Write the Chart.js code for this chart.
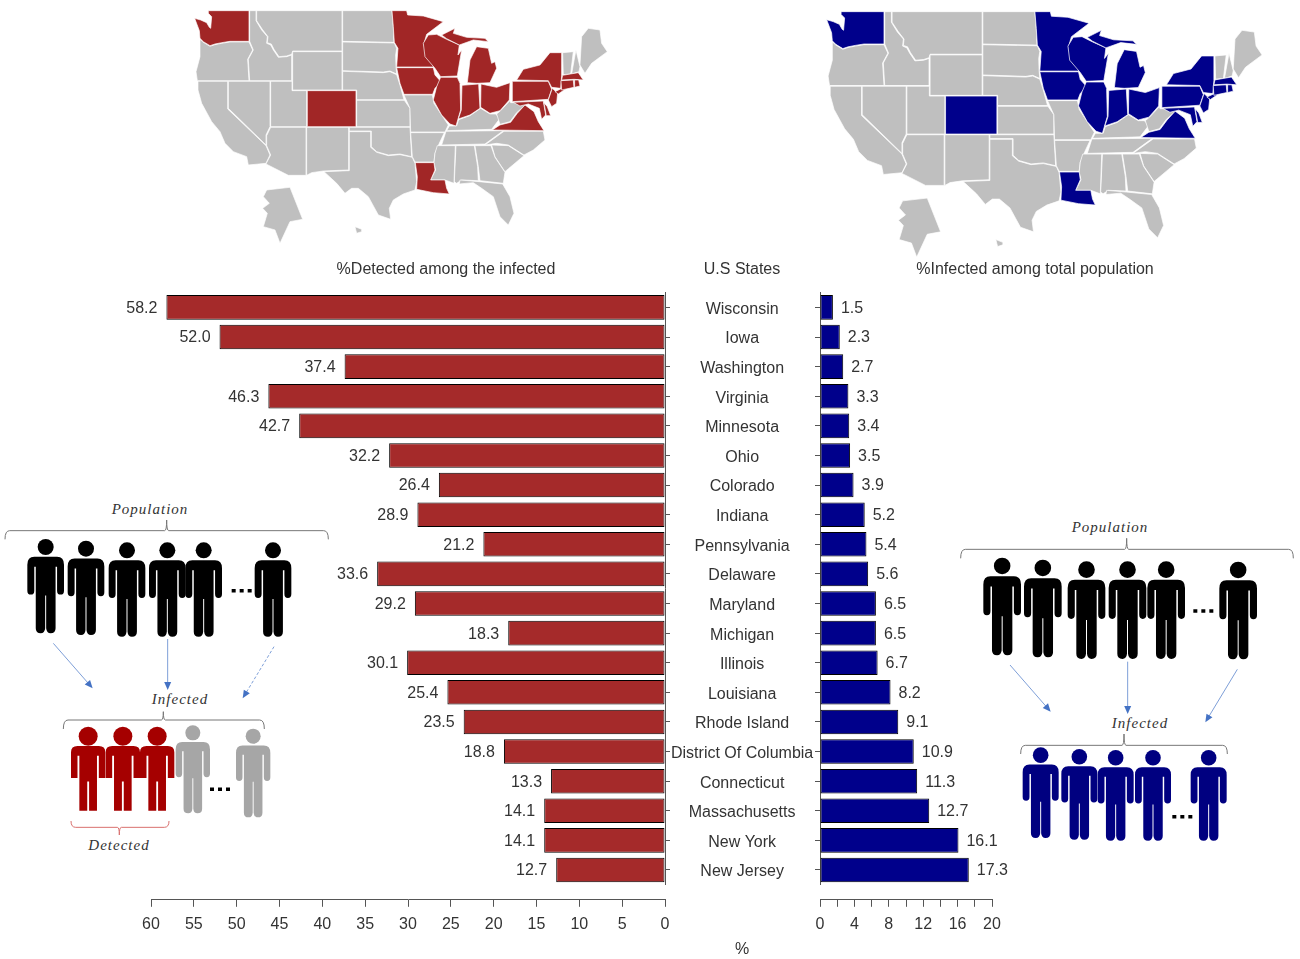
<!DOCTYPE html>
<html>
<head>
<meta charset="utf-8">
<title>Detected and infected by U.S state</title>
<script src="https://cdn.jsdelivr.net/npm/chart.js@4"></script>
<style>
    html, body { margin: 0; padding: 0; background: #fff; }
    #page { position: relative; width: 1300px; height: 959px; overflow: hidden; font-family: "Liberation Sans", Arial, sans-serif; color: #333; }
    #art { position: absolute; left: 0; top: 0; }
    canvas { position: absolute; top: 0; }
    #chartLeft { left: 0; }
    #chartRight { left: 760px; }
    .head { position: absolute; font-size: 16px; line-height: 18px; white-space: nowrap; transform: translateX(-50%); }
</style>
</head>
<body>
<div id="page">
    <svg id="art" width="1300" height="959" xmlns="http://www.w3.org/2000/svg"></svg>
    <canvas id="chartLeft" width="820" height="959"></canvas>
    <canvas id="chartRight" width="540" height="959"></canvas>
    <div class="head" style="left:446px;top:260px">%Detected among the infected</div>
    <div class="head" style="left:742px;top:260px">U.S States</div>
    <div class="head" style="left:1035px;top:260px">%Infected among total population</div>
    <div class="head" style="left:742px;top:940px">%</div>
</div>

<script>
// ------------------------------------ DATA -----------------------------------------
const states = ['Wisconsin', 'Iowa', 'Washington', 'Virginia', 'Minnesota', 'Ohio', 'Colorado', 'Indiana', 'Pennsylvania', 'Delaware',
    'Maryland', 'Michigan', 'Illinois', 'Louisiana', 'Rhode Island', 'District Of Columbia', 'Connecticut', 'Massachusetts', 'New York', 'New Jersey'];
const detectedPct = [58.2, 52.0, 37.4, 46.3, 42.7, 32.2, 26.4, 28.9, 21.2, 33.6, 29.2, 18.3, 30.1, 25.4, 23.5, 18.8, 13.3, 14.1, 14.1, 12.7];
const infectedPct = [1.5, 2.3, 2.7, 3.3, 3.4, 3.5, 3.9, 5.2, 5.4, 5.6, 6.5, 6.5, 6.7, 8.2, 9.1, 10.9, 11.3, 12.7, 16.1, 17.3];

// ------------------------------------ MAP SHAPES -----------------------------------------
// traced by hand, in 3x crop coordinates of the left map
const grayStates = [
    '60,118 70,127 90,139 105,134 125,130 150,126 207,126 218,150 203,178 207,242 52,242 48,215 60,170',
    '209,32 228,32 228,62 245,90 262,110 260,130 272,135 280,150 295,172 320,170 335,165 335,242 209,242 205,178 220,150 209,124',
    '230,32 486,32 486,153 338,153 335,163 320,168 297,170 282,148 274,132 262,128 264,110 247,88 230,62',
    '338,155 486,155 486,270 338,270',
    '488,32 636,32 640,80 642,127 488,124',
    '488,126 643,129 650,145 647,165 648,200 650,222 630,213 610,216 488,212',
    '488,214 610,218 630,215 650,224 660,255 672,299 530,299 530,270 488,270',
    '530,301 673,301 690,325 690,380 530,380',
    '272,244 336,244 336,272 380,272 380,380 272,380',
    '145,244 270,244 270,380 258,405 258,435 145,325',
    '54,244 143,244 143,327 258,437 270,465 258,490 205,495 200,470 160,455 135,430 120,395 95,365 65,310 54,270',
    '272,382 378,382 378,526 325,526 258,492 272,465 260,437 260,407',
    '380,382 506,382 506,510 430,513 395,518 380,526',
    '508,382 690,382 695,470 660,462 625,465 590,455 574,440 574,393 508,393',
    '508,395 572,395 572,442 590,457 625,467 660,464 697,472 705,490 710,545 705,570 670,582 640,600 628,625 632,658 595,645 565,590 535,565 515,565 495,580 470,550 432,515 508,512',
    '672,285 757,285 762,310 785,345 805,375 795,396 692,396 690,325',
    '692,398 793,398 778,430 765,460 762,486 705,486 697,470',
    '808,378 830,378 836,359 870,347 902,325 930,342 947,342 960,355 935,388 800,392',
    '798,394 970,392 915,432 785,435',
    '950,342 962,332 990,302 992,308 1025,308 1040,312 1010,338 990,365 960,373',
    '972,394 1090,394 1095,420 1060,450 1032,465 985,435 950,430 915,435',
    '935,435 985,437 1032,467 975,515 945,470',
    '885,437 933,437 945,472 975,517 970,550 900,542 895,500',
    '828,437 883,437 893,500 895,542 845,540 830,550 823,545',
    '772,437 826,437 822,550 795,540 752,540 767,510 762,488 765,460',
    '840,540 897,545 968,552 990,590 1002,640 985,675 960,650 940,590 905,565 880,548 838,552',
    '1148,158 1180,155 1172,222 1150,224',
    '1188,150 1200,200 1197,215 1175,222',
    '1205,110 1225,85 1260,90 1265,130 1282,155 1235,190 1215,220 1200,195',
    '260,570 330,562 368,658 330,665 300,730 285,690 250,680 262,640 248,625 268,610 250,590',
    '525,680 545,688 545,695 530,700'
];
const colorStates = [
    '85,32 207,32 207,124 150,124 125,128 105,132 90,137 70,125 60,115 58,92 44,55 62,60 80,68 88,82 92,85 95,50 85,40',
    '382,272 528,272 528,380 382,380',
    '706,488 762,488 765,510 752,540 795,540 800,565 808,582 760,578 710,568 712,530',
    '650,203 760,203 765,225 783,245 765,265 758,283 672,283 660,250',
    '636,32 680,32 683,45 730,48 790,65 740,103 732,130 735,150 760,190 760,201 650,201 654,145 643,127 640,80',
    '745,105 770,103 800,118 838,135 834,165 845,150 832,228 782,230 765,205 735,170 730,130',
    '785,105 825,85 820,100 860,112 915,115 925,125 880,120 838,135 800,116',
    '862,248 870,180 890,140 925,145 935,190 945,185 950,205 930,248 890,250',
    '782,232 832,232 840,250 842,330 828,378 810,372 785,345 760,300 770,260',
    '846,256 896,252 900,325 870,345 835,357 844,330',
    '903,252 950,262 990,248 988,300 960,332 930,340 902,322',
    '937,390 960,375 992,367 1012,340 1035,315 1062,335 1075,365 1092,392',
    '997,244 1105,244 1115,268 1105,298 997,305',
    '1010,240 1030,208 1080,195 1110,158 1145,158 1145,228 1142,265 1115,262 1105,242',
    '1117,265 1133,280 1130,310 1115,320 1105,300',
    '1000,307 1090,303 1097,345 1085,358 1078,325 1045,312 1020,318',
    '1092,308 1102,320 1112,347 1099,347',
    '1125,275 1165,256 1170,258 1135,282',
    '1143,242 1180,240 1182,262 1145,270',
    '1148,226 1195,218 1210,240 1182,238 1145,240',
    '1184,240 1196,240 1200,258 1184,262'
];

// one person, 37 wide and 95 high, without the head
const PERSON_ROUND = 'M7,18 H30 Q37,18 37,26 V52 Q37,56 33.5,56 Q30,56 30,52 V28 H28.5 V90 Q28.5,95 23.5,95 Q19.5,95 19,90 V57 H18 V90 Q17.5,95 13.5,95 Q8.5,95 8.5,90 V28 H7 V52 Q7,56 3.5,56 Q0,56 0,52 V26 Q0,18 7,18 Z';
const PERSON_SQUARE = 'M7,22 H30 Q37,22 37,29 V58 H30 V33 H28 V95 H19.5 V62 H17.5 V95 H9 V33 H7 V58 H0 V29 Q0,22 7,22 Z';

// ------------------------------------ DRAWING HELPERS -----------------------------------------
const art = document.getElementById('art');

function addSvg(parent, tag, attrs, text) {
    const el = document.createElementNS('http://www.w3.org/2000/svg', tag);
    Object.keys(attrs).forEach(k => el.setAttribute(k, attrs[k]));
    if (text) el.textContent = text;
    parent.appendChild(el);
    return el;
}

function drawMap(transform, fill) {
    const g = addSvg(art, 'g', { transform: transform });
    grayStates.forEach(p => addSvg(g, 'polygon', { points: p, fill: '#BFBFBF', stroke: '#fff', 'stroke-width': 2 }));
    colorStates.forEach(p => addSvg(g, 'polygon', { points: p, fill: fill, stroke: '#fff', 'stroke-width': 2 }));
}

function drawPerson(ox, oy, zx, zw, zTop, zBottom, fill, headR, bodyPath) {
    const w = zw / 3, h = (zBottom - zTop) / 3;
    const x = ox + zx / 3, y = oy + zTop / 3;
    addSvg(art, 'circle', { cx: x + w / 2, cy: y + headR, r: headR, fill: fill });
    const g = addSvg(art, 'g', { transform: `translate(${x},${y}) scale(${w / 37},${h / 95})` });
    addSvg(g, 'path', { d: bodyPath || PERSON_ROUND, fill: fill });
}

function drawDots(ox, oy, zx1, zx2, zy) {
    addSvg(art, 'line', {
        x1: ox + zx1 / 3, x2: ox + zx2 / 3, y1: oy + zy / 3, y2: oy + zy / 3,
        stroke: '#000', 'stroke-width': 3.5, 'stroke-dasharray': '4 4'
    });
}

function drawBrace(ox, oy, x1, xc, x2, yEnd, yBar, yTip, color) {
    const p = (x, y) => `${ox + x / 3},${oy + y / 3}`;
    const d = `M${p(x1, yEnd)} Q${p(x1, yBar)} ${p(x1 + 14, yBar)} L${p(xc - 6, yBar)} Q${p(xc, yBar)} ${p(xc, yTip)} Q${p(xc, yBar)} ${p(xc + 6, yBar)} L${p(x2 - 14, yBar)} Q${p(x2, yBar)} ${p(x2, yEnd)}`;
    addSvg(art, 'path', { d: d, fill: 'none', stroke: color, 'stroke-width': 1 });
}

function drawArrow(ox, oy, x1, y1, x2, y2, dashed) {
    const ax = ox + x1 / 3, ay = oy + y1 / 3, bx = ox + x2 / 3, by = oy + y2 / 3;
    const len = Math.hypot(bx - ax, by - ay), ux = (bx - ax) / len, uy = (by - ay) / len;
    const line = { x1: ax, y1: ay, x2: bx - ux * 5, y2: by - uy * 5, stroke: '#7E9FD8', 'stroke-width': 1 };
    if (dashed) line['stroke-dasharray'] = '3 2';
    addSvg(art, 'line', line);
    const bs = 8, hw = 3.5;
    const pts = [[bx, by], [bx - ux * bs - uy * hw, by - uy * bs + ux * hw], [bx - ux * bs + uy * hw, by - uy * bs - ux * hw]];
    addSvg(art, 'polygon', { points: pts.map(q => q.join(',')).join(' '), fill: '#4472C4' });
}

function drawNote(x, y, text) {
    addSvg(art, 'text', {
        x: x, y: y, 'text-anchor': 'middle', 'font-family': '"Liberation Serif", serif', 'font-style': 'italic',
        'font-size': 15, 'letter-spacing': 1, fill: '#333'
    }, text);
}

// ------------------------------------ ILLUSTRATIONS -----------------------------------------
function renderLeftPanel() {
    const ox = 0, oy = 490;
    const xs = [82, 203, 326, 447, 556, 764], tops = [147, 152, 157, 157, 157, 157];
    xs.forEach((x, i) => drawPerson(ox, oy, x, 110, tops[i], tops[i] + 283, '#000', 8));
    drawDots(ox, oy, 695, 755, 302);
    drawBrace(ox, oy, 15, 500, 985, 148, 122, 90, '#777');
    drawNote(150, 514, 'Population');
    drawArrow(ox, oy, 160, 460, 278, 595);
    drawArrow(ox, oy, 503, 447, 503, 600);
    drawArrow(ox, oy, 822, 470, 728, 625, true);
    drawNote(180, 704, 'Infected');
    drawBrace(ox, oy, 190, 490, 793, 717, 690, 665, '#777');
    [213, 317, 420].forEach(x => drawPerson(ox, oy, x, 103, 710, 962, '#A50000', 9.5, PERSON_SQUARE));
    drawPerson(ox, oy, 527, 103, 706, 970, '#A6A6A6', 7.5);
    drawPerson(ox, oy, 708, 103, 716, 982, '#A6A6A6', 7.5);
    drawDots(ox, oy, 630, 690, 898);
    drawBrace(ox, oy, 213, 358, 507, 993, 1012, 1035, '#D9706E');
    drawNote(119, 850, 'Detected');
}

function renderRightPanel() {
    const ox = 950, oy = 510;
    const xs = [100, 222, 353, 476, 592, 808], tops = [143, 149, 154, 154, 154, 155];
    xs.forEach((x, i) => drawPerson(ox, oy, x, 113, tops[i], tops[i] + 293, '#000', 8.3));
    drawDots(ox, oy, 730, 795, 303);
    drawBrace(ox, oy, 32, 530, 1030, 145, 118, 85, '#777');
    drawNote(1110, 532, 'Population');
    drawArrow(ox, oy, 180, 465, 302, 605);
    drawArrow(ox, oy, 533, 455, 533, 612);
    drawArrow(ox, oy, 862, 478, 766, 637);
    drawNote(1140, 728, 'Infected');
    drawBrace(ox, oy, 212, 522, 832, 732, 706, 672, '#777');
    const nx = [218, 334, 443, 555, 722], nt = [712, 717, 720, 720, 720];
    nx.forEach((x, i) => drawPerson(ox, oy, x, 108, nt[i], nt[i] + 272, '#000080', 7.8));
    drawDots(ox, oy, 667, 728, 920);
}

drawMap('translate(180,0) scale(0.3333)', '#A12626');
drawMap('translate(811.2,0.4) scale(0.3517)', '#00008B');
renderLeftPanel();
renderRightPanel();

// ------------------------------------ CHARTS -----------------------------------------
Chart.defaults.font.family = '"Liberation Sans", Arial, sans-serif';
Chart.defaults.font.size = 16;
Chart.defaults.color = '#333';

const AXIS_COLOR = '#555';
const AXIS_DROP = 15; // the value axis sits below the last bar

// value labels at the bar ends + lowered x axis
const barExtras = {
    id: 'barExtras',
    afterLayout(chart) {
        const s = chart.scales.x;
        s.top += AXIS_DROP;
        s.bottom += AXIS_DROP;
    },
    afterDatasetsDraw(chart) {
        const ctx = chart.ctx;
        const reversed = chart.scales.x.options.reverse;
        ctx.save();
        ctx.font = '16px "Liberation Sans", Arial, sans-serif';
        ctx.fillStyle = '#333';
        ctx.textBaseline = 'middle';
        ctx.textAlign = reversed ? 'right' : 'left';
        chart.getDatasetMeta(0).data.forEach((bar, i) => {
            const val = chart.data.datasets[0].data[i].toFixed(1);
            ctx.fillText(val, bar.x + (reversed ? -9 : 8), bar.y + 1);
        });
        ctx.restore();
    }
};

function makeBarChart(canvasId, values, fill, cfg) {
    return new Chart(document.getElementById(canvasId), {
        type: 'bar',
        data: {
            labels: states,
            datasets: [{
                data: values, backgroundColor: fill, borderColor: '#000', borderWidth: 1, borderSkipped: false,
                barPercentage: 0.83, categoryPercentage: 1
            }]
        },
        plugins: [barExtras],
        options: {
            indexAxis: 'y',
            responsive: false,
            animation: false,
            layout: { padding: cfg.padding },
            plugins: { legend: { display: false }, tooltip: { enabled: false } },
            scales: {
                x: {
                    min: 0, max: cfg.max, reverse: cfg.reverse,
                    afterFit: s => { s.height = 959 - 884.8; },
                    border: { color: AXIS_COLOR },
                    grid: { drawOnChartArea: false, tickLength: 7, tickColor: AXIS_COLOR },
                    ticks: { stepSize: cfg.step, autoSkip: false, maxRotation: 0, padding: 8, callback: cfg.tickText }
                },
                y: {
                    position: cfg.yPosition,
                    afterFit: s => { s.width = cfg.yWidth; },
                    border: { color: AXIS_COLOR },
                    grid: { offset: false, drawOnChartArea: false, tickLength: 5, tickColor: AXIS_COLOR },
                    ticks: cfg.yTicks
                }
            }
        }
    });
}

makeBarChart('chartLeft', detectedPct, '#A52A2A', {
    max: 60, step: 5, reverse: true, yPosition: 'right', yWidth: 155,
    padding: { left: 151, top: 292.6, right: 0, bottom: 0 },
    tickText: v => v,
    yTicks: { crossAlign: 'center', padding: 1, labelOffset: 2, autoSkip: false, color: '#333' }
});

makeBarChart('chartRight', infectedPct, '#00008B', {
    max: 20, step: 2, reverse: false, yPosition: 'left', yWidth: 60,
    padding: { left: 0, top: 292.6, right: 308, bottom: 0 },
    tickText: v => (v % 4 === 0 ? v : ''),
    yTicks: { autoSkip: false, callback: () => '' }
});
</script>
</body>
</html>
